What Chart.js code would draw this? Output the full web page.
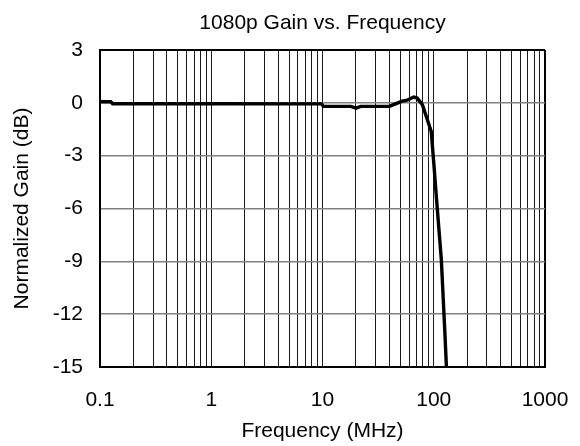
<!DOCTYPE html>
<html>
<head>
<meta charset="utf-8">
<script src="https://cdn.jsdelivr.net/npm/chart.js@4/dist/chart.umd.min.js"></script>
<style>
  html, body { margin: 0; padding: 0; background: #fff; }
  #wrap { width: 580px; height: 446px; }
</style>
</head>
<body>
<div id="wrap"><canvas id="chart"></canvas></div>
<script>
const FONT = "'Liberation Sans', Arial, sans-serif";
const TITLE = "1080p Gain vs. Frequency";

const freqMHz = [0.1, 0.125, 0.13, 1, 9.8, 10.2, 18, 20, 22, 40, 45.3, 52, 57.7, 66, 71, 79, 95, 100, 106, 117, 126, 130];
const gainDb = [0.06, 0.06, -0.05, -0.05, -0.06, -0.2, -0.2, -0.3, -0.2, -0.2, -0.06, 0.1, 0.15, 0.33, 0.27, -0.1, -1.63, -3.4, -5.5, -8.9, -13.1, -15];

const xDecades = [0.1, 1, 10, 100, 1000];
const xTickLabels = ["0.1", "1", "10", "100", "1000"];
const yTicks = [3, 0, -3, -6, -9, -12, -15];

function decadeIndex(v) {
  return xDecades.findIndex((d) => Math.abs(d - v) / d < 1e-9);
}

// title centred over the plot area, not the whole canvas
const plotTitle = {
  id: "plotTitle",
  afterDraw(chart) {
    const { ctx, chartArea } = chart;
    ctx.save();
    ctx.fillStyle = "#000";
    ctx.font = `21px ${FONT}`;
    ctx.textAlign = "center";
    ctx.textBaseline = "alphabetic";
    ctx.fillText(TITLE, (chartArea.left + chartArea.right) / 2, 29);
    ctx.restore();
  },
};

const points = freqMHz.map((f, i) => ({ x: f, y: gainDb[i] }));

new Chart(document.getElementById("chart"), {
  type: "scatter",
  data: {
    datasets: [{
      data: points,
      showLine: true,
      borderColor: "#000",
      borderWidth: 3.4,
      pointRadius: 0,
      tension: 0,
      clip: 2,
    }],
  },
  plugins: [plotTitle],
  options: {
    responsive: true,
    maintainAspectRatio: false,
    animation: false,
    layout: { padding: { top: 50, right: 35, bottom: 0, left: 0 } },
    plugins: {
      legend: { display: false },
      tooltip: { enabled: false },
      title: { display: false },
    },
    scales: {
      x: {
        type: "logarithmic",
        min: 0.1,
        max: 1000,
        afterBuildTicks: (scale) => {
          const ticks = [];
          for (let d = 0; d < xDecades.length - 1; d++) {
            for (let k = 1; k < 10; k++) ticks.push({ value: xDecades[d] * k });
          }
          ticks.push({ value: 1000 });
          scale.ticks = ticks;
        },
        afterFit: (scale) => {
          scale.height = 79;
          scale.paddingLeft = 0;
          scale.paddingRight = 0;
        },
        grid: {
          color: (ctx) => (ctx.tick && ctx.tick.value === 1000 ? "#000" : "#1a1a1a"),
          lineWidth: (ctx) => (ctx.tick && ctx.tick.value === 1000 ? 2 : 1),
          drawTicks: false,
        },
        border: { color: "#000", width: 2 },
        ticks: {
          autoSkip: false,
          maxRotation: 0,
          padding: 21,
          color: "#000",
          font: { family: FONT, size: 21 },
          callback: (v) => {
            const i = decadeIndex(v);
            return i >= 0 ? xTickLabels[i] : "";
          },
        },
        title: {
          display: true,
          text: "Frequency (MHz)",
          color: "#000",
          font: { family: FONT, size: 21 },
          padding: { top: 0, bottom: 2 },
        },
      },
      y: {
        min: -15,
        max: 3,
        afterBuildTicks: (scale) => { scale.ticks = yTicks.map((v) => ({ value: v })); },
        afterFit: (scale) => { scale.width = 100; },
        grid: {
          color: (ctx) => (ctx.tick && ctx.tick.value === 3 ? "#000" : "#808080"),
          lineWidth: (ctx) => (ctx.tick && ctx.tick.value === 3 ? 2 : 1.5),
          drawTicks: false,
        },
        border: { color: "#000", width: 2 },
        ticks: {
          padding: 17,
          color: "#000",
          font: { family: FONT, size: 21 },
        },
        title: {
          display: true,
          text: "Normalized Gain (dB)",
          color: "#000",
          font: { family: FONT, size: 21 },
          padding: { top: 10, bottom: 0 },
        },
      },
    },
  },
});
</script>
</body>
</html>
